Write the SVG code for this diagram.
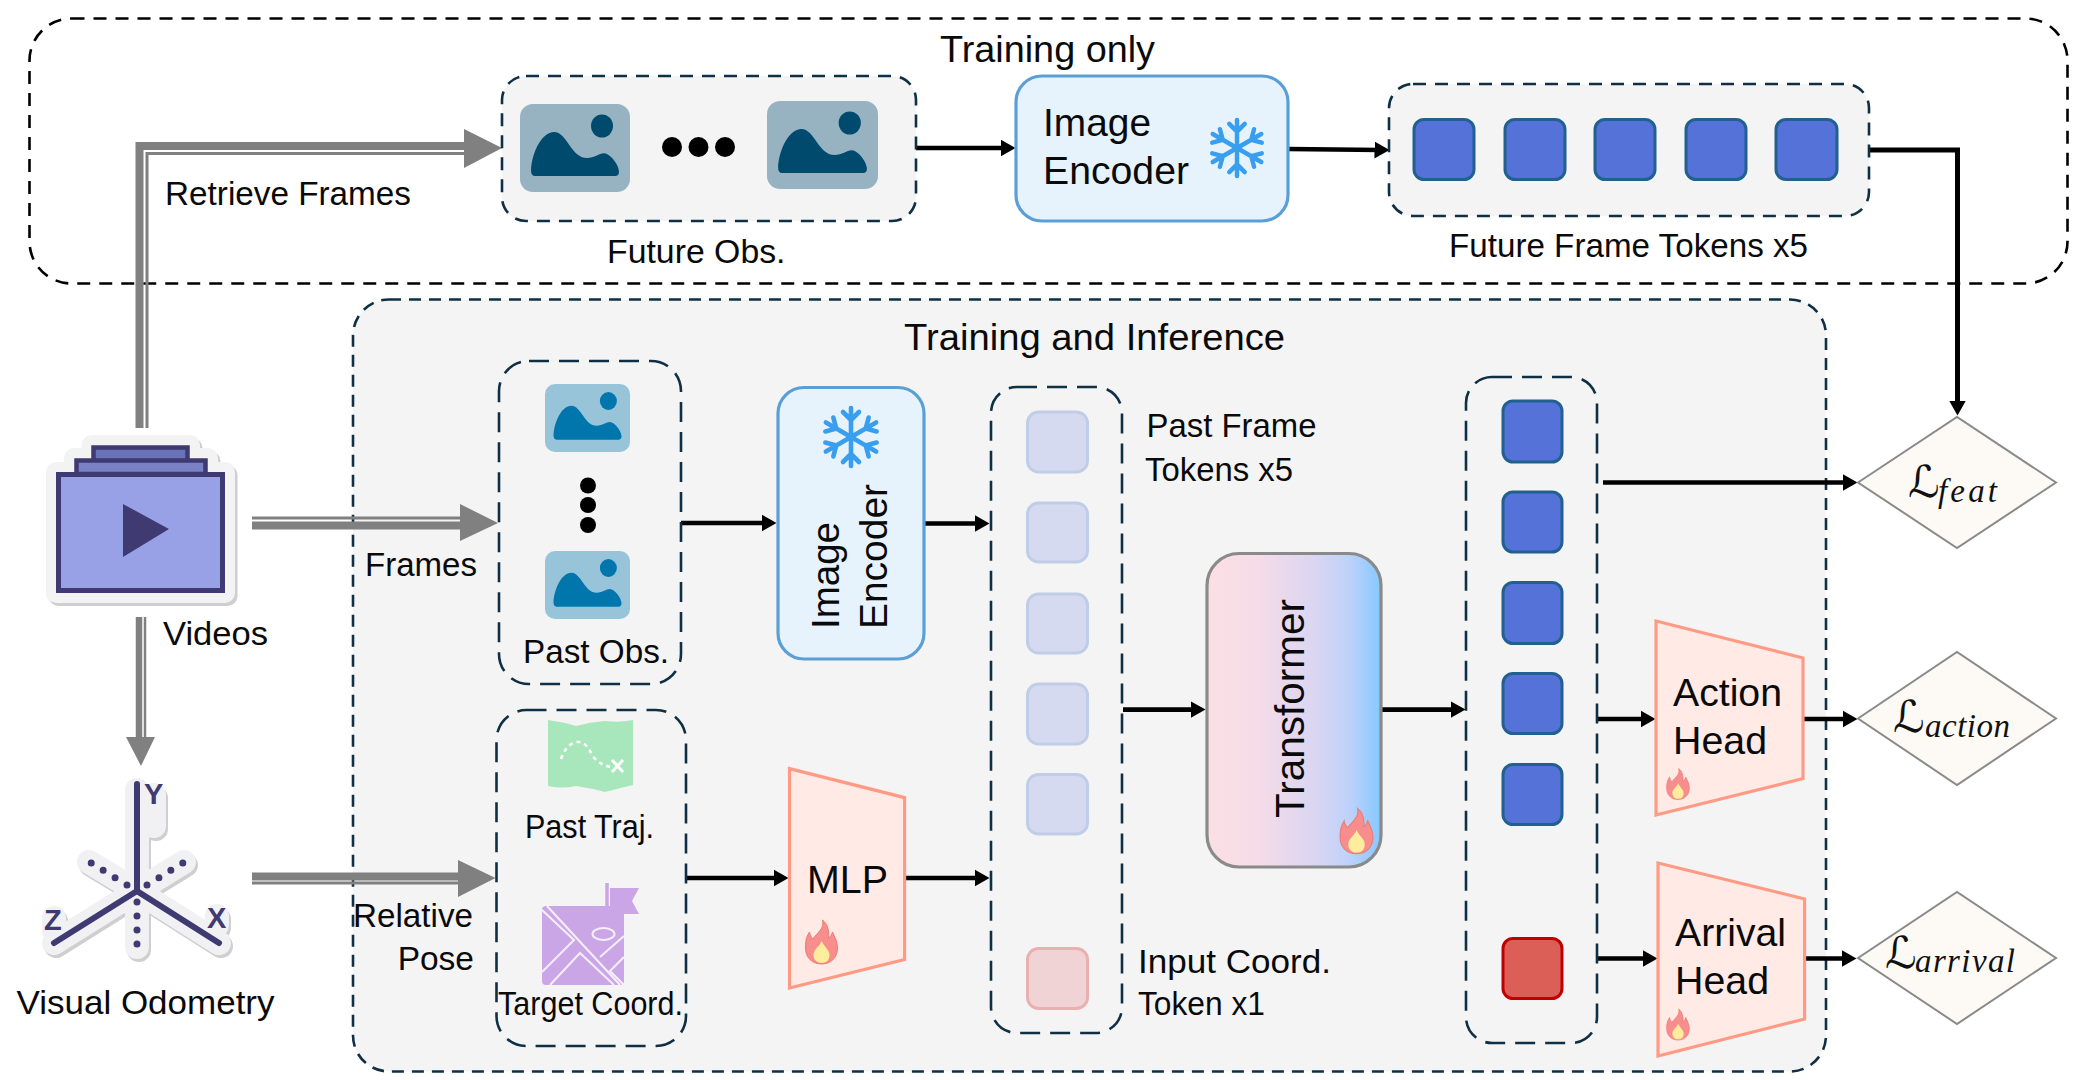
<svg xmlns="http://www.w3.org/2000/svg" xmlns:xlink="http://www.w3.org/1999/xlink" width="2096" height="1080" viewBox="0 0 2096 1080">
<style>
text{font-family:"Liberation Sans",Arial,sans-serif;fill:#0a0a0a}
.t33{font-size:33.500px}.t39{font-size:39.500px}.t37{font-size:37.600px}
.box{fill:none;stroke:#0f3044;stroke-width:2.6}
.short{stroke-dasharray:13 9}
.long{stroke-dasharray:20 10}
.tok{stroke:#21608f;stroke-width:3;fill:#5572d8}
.ptok{stroke:#c0cde8;stroke-width:3;fill:#d5daf0}
.head{fill:#ffeae6;stroke:#ff9a85;stroke-width:3.2}
.dia{fill:#fdfaf5;stroke:#8a8a8a;stroke-width:2}
.enc{fill:#e6f3fd;stroke:#5a9fd6;stroke-width:3.2}
.k{fill:none;stroke:#000;stroke-width:4.6;marker-end:url(#ah)}
.gw{fill:none;stroke:#808080;stroke-width:8}
.gn{fill:none;stroke:#808080;stroke-width:3}
.gh{fill:#808080}
.ink{fill:none;stroke:#3f3a72;stroke-linecap:round}
.L{font-family:"DejaVu Sans",sans-serif;font-size:44px;fill:#111}
.sub{font-family:"Liberation Serif",serif;font-style:italic;font-size:33px;letter-spacing:4px;fill:#111}
.axl{font-size:29px;font-weight:bold;fill:#3f3a72}
</style>
<defs>
<marker id="ah" markerUnits="userSpaceOnUse" markerWidth="18" markerHeight="18" refX="6.500" refY="9" orient="auto"><path d="M0 0.500L15 9L0 17.500z" fill="#000"/></marker>
<linearGradient id="tg" x1="0" x2="1" y1="0" y2="0"><stop offset="0" stop-color="#fbdfe4"/><stop offset=".3" stop-color="#f5dce8"/><stop offset=".6" stop-color="#dcd6f2"/><stop offset=".82" stop-color="#bdd2fa"/><stop offset="1" stop-color="#85c8ff"/></linearGradient>
<symbol id="img" viewBox="0 0 110 88" preserveAspectRatio="none"><rect width="110" height="88" rx="13" fill="currentColor" fill-opacity=".38"/><path d="M11 66C12 48 22 28 34 28C47 28 51 54 67 54C76 54 81 47 87 50C93 53 99 62 99 68Q99 72 95 72H15Q11 72 11 66z" fill="currentColor"/><ellipse cx="82" cy="22" rx="11" ry="11.500" fill="currentColor"/></symbol>
<symbol id="snow" viewBox="-30 -32 60 64"><g fill="none" stroke="#399eee" stroke-width="4.600" stroke-linecap="round" stroke-linejoin="round"><g id="arm"><path d="M0 0V-29M-8 -25L0 -17L8 -25"/></g><use href="#arm" transform="rotate(60)"/><use href="#arm" transform="rotate(120)"/><use href="#arm" transform="rotate(180)"/><use href="#arm" transform="rotate(240)"/><use href="#arm" transform="rotate(300)"/></g></symbol>
<symbol id="fire" viewBox="0 0 34 46"><path d="M18 1C20 9 14 13 8 20C5 15 5 13 5 13C1 19 1 24 1 29C1 39 8 45 17 45C26 45 33 39 33 29C33 22 30 18 28 13C27 16 26 18 24 19C25 12 23 5 18 1z" fill="#f78d8d" stroke="#ee7a72" stroke-width="1"/><path d="M17 22C15 28 9 30 9 36C9 41 13 44 17 44C22 44 25 41 25 36C25 31 20 28 17 22z" fill="#ffec9c"/></symbol>
</defs>
<rect width="2096" height="1080" fill="#fff"/>

<rect id="training-only" x="29.500" y="18.500" width="2038" height="265" rx="42" fill="none" stroke="#000" stroke-width="2.600" stroke-dasharray="13 9"/>
<g id="training-inference"><rect x="353" y="299.500" width="1473" height="772" rx="36" fill="#f4f4f4" stroke="#0f3044" stroke-width="2.600" stroke-dasharray="12 8"/></g>
<text x="940" y="62" class="t37" textLength="215" lengthAdjust="spacingAndGlyphs">Training only</text>
<text x="904" y="350" class="t37" textLength="381" lengthAdjust="spacingAndGlyphs">Training and Inference</text>

<g id="connectors">
<path class="gw" d="M139.500 428V146H464"/><path class="gn" d="M147 428V153.500H464"/><path class="gh" d="M464 129L502 148L464 168z"/>
<path class="gn" d="M252 518H460"/><path class="gw" d="M252 525.500H460"/><path class="gh" d="M460 504L498 523L460 541z"/>
<path class="gw" d="M252 876.500H458"/><path class="gn" d="M252 883H458"/><path class="gh" d="M458 860L495.500 878L458 897z"/>
<path class="gw" d="M139 617V738" style="stroke-width:6.500"/><path class="gn" d="M145 617V738" style="stroke-width:2.500"/><path class="gh" d="M126 737H155L141 766z"/>
<path class="k" d="M916 148H1007"/>
<path class="k" d="M1288 149L1381 150"/>
<path d="M1869 150H1957.500V407" class="k" style="stroke-width:5"/>
<path class="k" d="M681 523H768"/>
<path class="k" d="M924 523.500H981"/>
<path class="k" d="M686 878H780"/>
<path class="k" d="M904.600 878H981"/>
<path class="k" d="M1123 709.600H1197"/>
<path class="k" d="M1381 709.600H1457"/>
<path class="k" d="M1603 482.500H1849"/>
<path class="k" d="M1597 719H1647"/>
<path class="k" d="M1803 719H1849"/>
<path class="k" d="M1597 958.500H1649"/>
<path class="k" d="M1806 958.500H1848"/>
</g>

<g id="future-obs">
<rect x="502" y="76" width="414" height="145" rx="24" fill="#f4f4f4" stroke="#0f3044" stroke-width="2.600" stroke-dasharray="13 9"/>
<use href="#img" x="520" y="104" width="110" height="88" color="#004a6e"/>
<use href="#img" x="767" y="101" width="111" height="88" color="#004a6e"/>
<circle cx="672" cy="147" r="10"/><circle cx="698.500" cy="147" r="10"/><circle cx="725" cy="147" r="10"/>
<text x="607" y="263" class="t33" textLength="178.500" lengthAdjust="spacingAndGlyphs">Future Obs.</text>
</g>
<g id="image-encoder-top">
<rect x="1016" y="76" width="272" height="145" rx="26" class="enc"/>
<text x="1043" y="136" class="t39" textLength="108" lengthAdjust="spacingAndGlyphs">Image</text><text x="1043" y="184" class="t39" textLength="146" lengthAdjust="spacingAndGlyphs">Encoder</text>
<use href="#snow" x="1208" y="117" width="58" height="62"/>
</g>
<g id="future-tokens">
<rect x="1389" y="84" width="480" height="132" rx="24" fill="#f4f4f4" stroke="#0f3044" stroke-width="2.600" stroke-dasharray="13 9"/>
<rect class="tok" x="1414" y="119.500" width="60" height="60" rx="10"/><rect class="tok" x="1505" y="119.500" width="60" height="60" rx="10"/><rect class="tok" x="1595" y="119.500" width="60" height="60" rx="10"/><rect class="tok" x="1686" y="119.500" width="60" height="60" rx="10"/><rect class="tok" x="1776" y="119.500" width="61" height="60" rx="10"/>
<text x="1449" y="257" class="t33" textLength="359" lengthAdjust="spacingAndGlyphs">Future Frame Tokens x5</text>
</g>
<text x="165" y="205" class="t33" textLength="246" lengthAdjust="spacingAndGlyphs">Retrieve Frames</text>

<g id="videos">
<path d="M56 593V472H74V458H91.500V445H190V458H208V472H225V593z" fill="#cfcfcf" stroke="#cfcfcf" stroke-width="20" stroke-linejoin="round" transform="translate(2.500 3)"/>
<path d="M56 593V472H74V458H91.500V445H190V458H208V472H225V593z" fill="#f3f3f3" stroke="#f3f3f3" stroke-width="20" stroke-linejoin="round"/>
<path d="M93.500 474V447.500H187.500V474z" fill="#6b73b8" stroke="#3f3a72" stroke-width="4.500"/>
<path d="M76.500 474V460.500H205.500V474z" fill="#7a82c6" stroke="#3f3a72" stroke-width="4.500"/>
<rect x="58.500" y="474.500" width="164" height="116" fill="#99a1e6" stroke="#3f3a72" stroke-width="5"/>
<path d="M123 504L169 529L123 557z" fill="#3f3a72"/>
<text x="163" y="645" class="t33" textLength="105" lengthAdjust="spacingAndGlyphs">Videos</text>
</g>

<g id="visual-odometry">
<g fill="none" stroke="#cfcfcf" stroke-width="24" stroke-linecap="round" transform="translate(2 3)"><path d="M137 790V891M137 891L219 943M137 891L54 943M137 891V947M137 891L184 862M137 891L89 862M154 795V826M217 916V925M54 918V930"/></g>
<g fill="none" stroke="#f1f1f4" stroke-width="24" stroke-linecap="round"><path d="M137 790V891M137 891L219 943M137 891L54 943M137 891V947M137 891L184 862M137 891L89 862M154 795V826M217 916V925M54 918V930"/></g>
<path class="ink" stroke-width="6" d="M137 784V891L219 943M137 891L54 943"/>
<path class="ink" stroke-width="7" stroke-dasharray="0 14" d="M137 902V950M147 885L186 861M127 885L88 861"/>
<text x="144" y="804" class="axl">Y</text>
<text x="44" y="930" class="axl">Z</text>
<text x="207" y="928" class="axl">X</text>
<text x="16.500" y="1014" class="t33" textLength="258" lengthAdjust="spacingAndGlyphs">Visual Odometry</text>
</g>
<text x="365" y="575.500" class="t33" textLength="112" lengthAdjust="spacingAndGlyphs">Frames</text>
<text x="353" y="927" class="t33" textLength="120" lengthAdjust="spacingAndGlyphs">Relative</text>
<text x="474" y="970" class="t33" text-anchor="end">Pose</text>

<g id="past-obs">
<rect class="box long" x="499" y="361" width="182" height="323" rx="30"/>
<use href="#img" x="545" y="384" width="85" height="68" color="#0076ad"/>
<circle cx="588" cy="485.500" r="8"/><circle cx="588" cy="505" r="8"/><circle cx="588" cy="525" r="8"/>
<use href="#img" x="545" y="551" width="85" height="68" color="#0076ad"/>
<text x="523" y="663" class="t33" textLength="146" lengthAdjust="spacingAndGlyphs">Past Obs.</text>
</g>
<g id="traj-target">
<rect class="box long" x="496.500" y="710" width="189.500" height="336" rx="30"/>
<path d="M548 720Q563 722 576 726Q590 722 605 721Q620 723 633 720V785Q620 788 605 792Q590 788 576 786Q562 789 548 786z" fill="#a8e6bc"/>
<path d="M561 759Q566 744 577 742Q586 741 592 755Q598 764 610 767" fill="none" stroke="#fff" stroke-width="2.600" stroke-dasharray="4 4"/>
<path d="M612 760L623 772M623 760L612 772" stroke="#fff" stroke-width="3"/>
<text x="525" y="838" class="t33" textLength="129" lengthAdjust="spacingAndGlyphs">Past Traj.</text>
<rect x="542" y="906" width="82" height="79" rx="4" fill="#cba6e6"/>
<path d="M542 910L574 940L542 972M547 906L620 985M550 985L580 953L614 985M600 957L624 936M624 957L610 971L624 985" fill="none" stroke="#f4eefa" stroke-width="2"/>
<path d="M607 883V935" stroke="#cba6e6" stroke-width="3.500"/>
<ellipse cx="603.500" cy="934" rx="11" ry="6" fill="none" stroke="#f4eefa" stroke-width="2"/>
<path d="M610 888H639L632 901L639 914H610z" fill="#cba6e6"/>
<text x="498" y="1014.500" class="t33" textLength="185" lengthAdjust="spacingAndGlyphs">Target Coord.</text>
</g>
<g id="image-encoder">
<rect x="778" y="387.500" width="146" height="271.500" rx="26" class="enc"/>
<use href="#snow" x="820" y="405" width="62" height="64"/>
<text transform="translate(838.500 629) rotate(-90)" class="t39" textLength="107" lengthAdjust="spacingAndGlyphs">Image</text>
<text transform="translate(887 629) rotate(-90)" class="t39" textLength="145" lengthAdjust="spacingAndGlyphs">Encoder</text>
</g>
<g id="mlp">
<path class="head" d="M789.500 768.600L904.600 797.600V959.600L789.500 988z"/>
<text x="807" y="893" class="t39" textLength="81" lengthAdjust="spacingAndGlyphs">MLP</text>
<use href="#fire" x="804" y="919" width="35" height="46"/>
</g>
<g id="past-tokens">
<rect class="box long" x="991" y="387" width="131" height="646" rx="26"/>
<rect class="ptok" x="1027.500" y="412" width="60" height="60" rx="11"/><rect class="ptok" x="1027.500" y="503" width="60" height="59" rx="11"/><rect class="ptok" x="1027.500" y="594" width="60" height="59" rx="11"/><rect class="ptok" x="1027.500" y="684" width="60" height="60" rx="11"/><rect class="ptok" x="1027.500" y="774.500" width="60" height="59.500" rx="11"/>
<rect x="1027.500" y="948.500" width="60" height="60" rx="11" fill="#f0d3d5" stroke="#eab0b0" stroke-width="3"/>
<text x="1146.500" y="437" class="t33" textLength="170" lengthAdjust="spacingAndGlyphs">Past Frame</text><text x="1145" y="480.500" class="t33" textLength="148" lengthAdjust="spacingAndGlyphs">Tokens x5</text>
<text x="1138" y="972.500" class="t33" textLength="193" lengthAdjust="spacingAndGlyphs">Input Coord.</text><text x="1138" y="1015" class="t33" textLength="127" lengthAdjust="spacingAndGlyphs">Token x1</text>
</g>
<g id="transformer">
<rect x="1207" y="553.500" width="174" height="313.500" rx="32" fill="url(#tg)" stroke="#8a8a8a" stroke-width="3.200"/>
<text transform="translate(1304 818) rotate(-90)" style="font-size:40px" textLength="219" lengthAdjust="spacingAndGlyphs">Transformer</text>
<use href="#fire" x="1339" y="807" width="35" height="48"/>
</g>
<g id="output-tokens">
<rect class="box long" x="1466" y="377" width="131" height="666" rx="26"/>
<rect class="tok" x="1503" y="401" width="59" height="61" rx="10"/><rect class="tok" x="1503" y="492" width="59" height="60" rx="10"/><rect class="tok" x="1503" y="582.500" width="59" height="61" rx="10"/><rect class="tok" x="1503" y="673.500" width="59" height="60" rx="10"/><rect class="tok" x="1503" y="764.500" width="59" height="60" rx="10"/>
<rect x="1503" y="938.500" width="59" height="60" rx="10" fill="#dc5f57" stroke="#c00000" stroke-width="3"/>
</g>
<g id="action-head">
<path class="head" d="M1656 621L1803 658V778.600L1656 815z"/>
<text x="1673" y="706" class="t39" textLength="109" lengthAdjust="spacingAndGlyphs">Action</text><text x="1673" y="753.500" class="t39" textLength="94" lengthAdjust="spacingAndGlyphs">Head</text>
<use href="#fire" x="1666" y="766" width="24" height="36"/>
</g>
<g id="arrival-head">
<path class="head" d="M1658 863L1804.600 899V1019L1658 1056z"/>
<text x="1675" y="945.500" class="t39" textLength="111" lengthAdjust="spacingAndGlyphs">Arrival</text><text x="1675" y="994" class="t39" textLength="94" lengthAdjust="spacingAndGlyphs">Head</text>
<use href="#fire" x="1666" y="1007" width="24" height="35"/>
</g>
<g id="loss-feat"><path class="dia" d="M1858 482.500L1957 417L2056 482.500L1957 548z"/><text x="1908" y="497" class="L">ℒ</text><text x="1938" y="502" class="sub" textLength="63">feat</text></g>
<g id="loss-action"><path class="dia" d="M1858 718.500L1957 652L2056 718.500L1957 785z"/><text x="1893" y="732" class="L">ℒ</text><text x="1925" y="737" class="sub" textLength="89">action</text></g>
<g id="loss-arrival"><path class="dia" d="M1858 958L1957 892L2056 958L1957 1024z"/><text x="1885" y="968" class="L">ℒ</text><text x="1915" y="972" class="sub" textLength="104">arrival</text></g>
</svg>
